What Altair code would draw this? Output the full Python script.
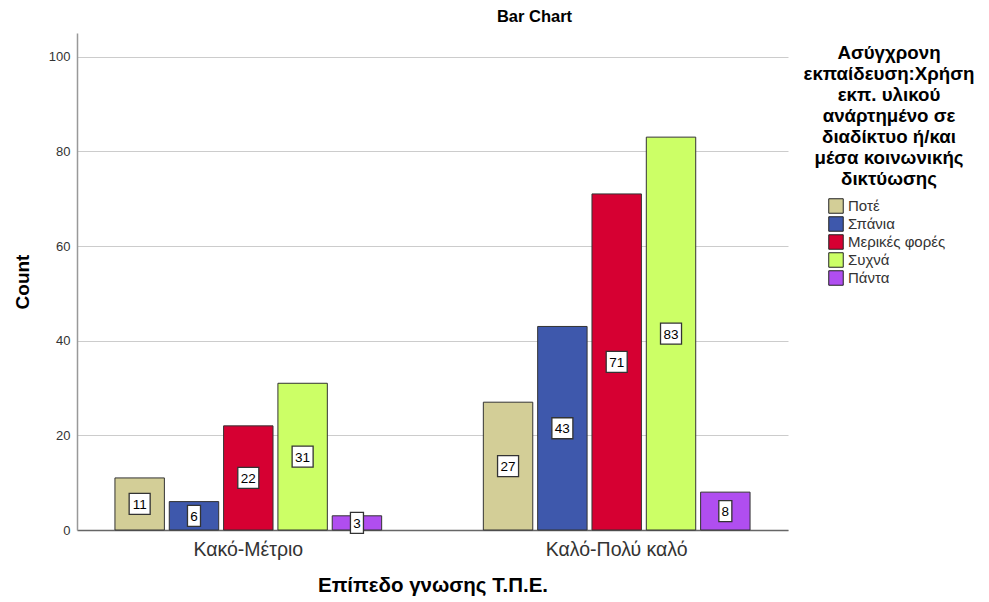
import altair as alt
import pandas as pd

groups = ["Κακό-Μέτριο", "Καλό-Πολύ καλό"]
categories = ["Ποτέ", "Σπάνια", "Μερικές φορές", "Συχνά", "Πάντα"]
values_kako = [11, 6, 22, 31, 3]
values_kalo = [27, 43, 71, 83, 8]
colors = ["#d3ce97", "#3e58ac", "#d60032", "#ccff66", "#b04ef0"]
y_ticks = [0, 20, 40, 60, 80, 100]
legend_title_lines = ["Ασύγχρονη", "εκπαίδευση:Χρήση", "εκπ. υλικού",
                      "ανάρτημένο σε", "διαδίκτυο ή/και", "μέσα κοινωνικής", "δικτύωσης"]

rows = []
for g, vals in zip(groups, [values_kako, values_kalo]):
    for c, v in zip(categories, vals):
        rows.append({"group": g, "category": c, "value": v,
                     "digits": str(len(str(v)))})
df = pd.DataFrame(rows)

FONT = "Liberation Sans"

x_enc = alt.X("group:N", sort=groups, title="Επίπεδο γνωσης Τ.Π.Ε.",
              scale=alt.Scale(paddingInner=0.276, paddingOuter=0.103),
              axis=alt.Axis(labelAngle=0, labelFontSize=19.5, labelColor="#333333",
                            labelFont=FONT, labelPadding=10, ticks=False,
                            titleFont=FONT, titleFontSize=20.5, titleFontWeight="bold",
                            titleColor="#000000", titlePadding=17,
                            domainColor="#666666", domainWidth=1.5))
xoff = alt.XOffset("category:N", sort=categories,
                   scale=alt.Scale(paddingInner=0.09, paddingOuter=0))
y_scale = alt.Scale(domain=[0, 105], nice=False)

base = alt.Chart(df)

bars = base.mark_bar(stroke="#333333", strokeWidth=1).encode(
    x=x_enc,
    xOffset=xoff,
    y=alt.Y("value:Q", scale=y_scale, title="Count",
            axis=alt.Axis(values=y_ticks, ticks=False, labelFontSize=13,
                          labelColor="#333333", labelFont=FONT, labelPadding=7,
                          gridColor="#cccccc", gridWidth=1,
                          domainColor="#999999", domainWidth=1.5,
                          titleFont=FONT, titleFontSize=19, titleFontWeight="bold",
                          titleColor="#000000", titlePadding=16)),
    color=alt.Color("category:N", sort=categories,
                    scale=alt.Scale(domain=categories, range=colors),
                    legend=alt.Legend(title=None, orient="none", legendX=751, legendY=165,
                                      symbolType="square", symbolSize=210,
                                      symbolStrokeColor="#222222", symbolStrokeWidth=1,
                                      labelFont=FONT, labelFontSize=15,
                                      labelColor="#333333", labelOffset=4,
                                      rowPadding=-2)),
)

boxes = base.transform_calculate(
    mid="datum.value / 2",
).mark_point(filled=True, fill="white", stroke="#333333", strokeWidth=1.3, opacity=1,
             size=441).encode(
    x=alt.X("group:N", sort=groups),
    xOffset=xoff,
    y=alt.Y("mid:Q", scale=y_scale),
    shape=alt.Shape("digits:N",
                    scale=alt.Scale(domain=["1", "2"],
                                    range=["M-0.62,-1L0.62,-1L0.62,1L-0.62,1Z",
                                           "M-1,-1L1,-1L1,1L-1,1Z"]),
                    legend=None),
)

labels = base.transform_calculate(mid="datum.value / 2").mark_text(
    font=FONT, fontSize=13.5, color="#000000", baseline="middle", dy=1
).encode(
    x=alt.X("group:N", sort=groups),
    xOffset=xoff,
    y=alt.Y("mid:Q", scale=y_scale),
    text="value:Q",
)

legend_title = alt.Chart(pd.DataFrame({"k": [0]})).mark_text(
    text=legend_title_lines, lineHeight=21,
    font=FONT, fontSize=18.7, fontWeight="bold", color="#000000",
    align="center", baseline="middle"
).encode(
    x=alt.value(812),
    y=alt.value(20),
)

chart = alt.layer(bars, boxes, labels, legend_title).properties(
    width=711, height=497,
    title=alt.TitleParams("Bar Chart", font=FONT, fontSize=16.5, fontWeight="bold",
                          color="#000000", anchor="middle", dx=102, offset=8),
    autosize=alt.AutoSizeParams(type="none"),
    padding={"left": 69, "top": 25, "right": 190, "bottom": 70},
).configure_view(stroke=None)

chart.save("out.html", embed_options={"renderer": "svg", "actions": False})
